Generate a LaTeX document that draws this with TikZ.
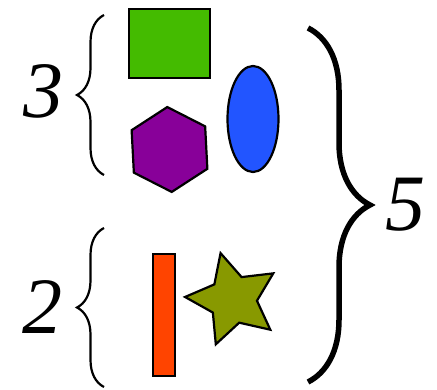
\documentclass[tikz,border=0pt]{standalone}
\usepackage{fontspec}
\setmainfont{Liberation Serif}
\usetikzlibrary{shapes.geometric,decorations.pathreplacing}
\definecolor{boxgreen}{RGB}{68,187,0}
\definecolor{hexpurple}{RGB}{136,0,153}
\definecolor{ovalblue}{RGB}{34,85,255}
\definecolor{barred}{RGB}{255,68,0}
\definecolor{starolive}{RGB}{136,153,0}
\tikzset{
  piece/.style={draw,line width=2.2pt,inner sep=0pt},
  count/.style={inner sep=0pt,font=\fontsize{80}{80}\selectfont\itshape},
  curly/.style={decorate,decoration={brace,amplitude=27pt},line width=2.2pt},
  bigcurly/.style={decorate,decoration={brace,amplitude=62pt},line width=5.5pt},
}
\begin{document}
\begin{tikzpicture}[x=1pt,y=-1pt]
  \useasboundingbox (0,0) rectangle (437,390);
  % upper group
  \node[piece,fill=boxgreen,minimum width=81pt,minimum height=69pt] (square) at (169.5,43.5) {};
  \node[piece,fill=hexpurple,regular polygon,regular polygon sides=6,minimum size=85pt,rotate=33] (hexagon) at (169.5,149.5) {};
  \node[piece,fill=ovalblue,ellipse,minimum width=51pt,minimum height=106pt] (oval) at (253,119) {};
  % lower group
  \node[piece,fill=barred,minimum width=22pt,minimum height=122pt] (bar) at (164,315) {};
  \node[piece,fill=starolive,star,star points=5,star point ratio=2,minimum size=96pt,rotate=15] (pentastar) at (233,299.5) {};
  % braces
  \coordinate (upper bottom) at (104,175);
  \coordinate (upper top) at (104,15);
  \coordinate (lower bottom) at (104,387);
  \coordinate (lower top) at (104,228);
  \coordinate (all top) at (308,28);
  \coordinate (all bottom) at (308,382);
  \draw[curly] (upper bottom) -- (upper top);
  \draw[curly] (lower bottom) -- (lower top);
  \draw[bigcurly] (all top) -- (all bottom);
  % counts
  \node[count] (three) at (43.5,91.5) {3};
  \node[count] (two) at (42.5,307.5) {2};
  \node[count] (five) at (405.5,205) {5};
\end{tikzpicture}
\end{document}
